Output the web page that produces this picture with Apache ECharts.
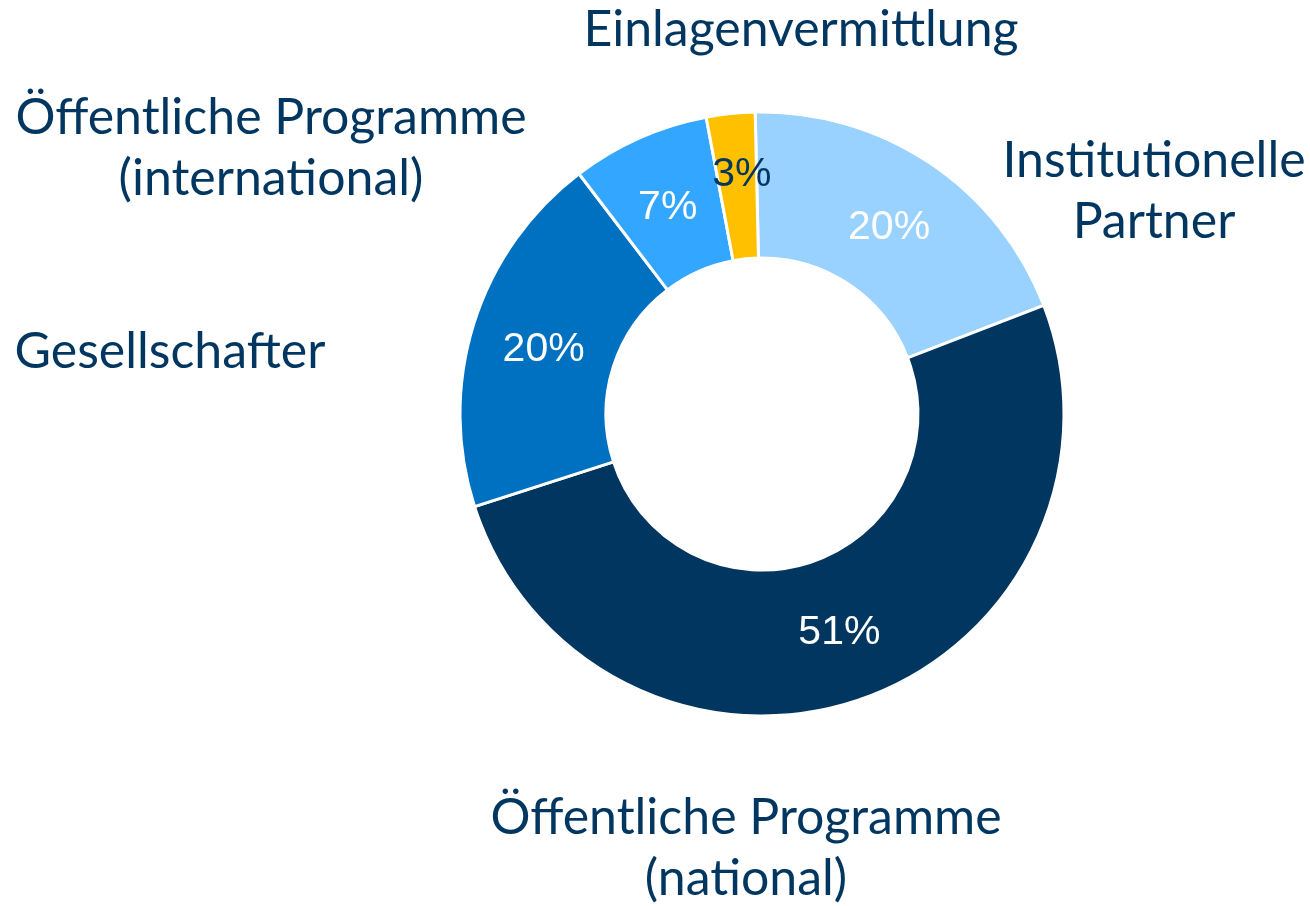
<!DOCTYPE html>
<html>
<head>
<meta charset="utf-8">
<script src="https://cdn.jsdelivr.net/npm/echarts@6/dist/echarts.min.js"></script>
<style>
  html, body { margin: 0; padding: 0; background: #fff; }
  #main { width: 1310px; height: 906px; }
</style>
</head>
<body>
<div id="main"></div>
<script>
// Anteile (in Prozent), im Uhrzeigersinn ab 12 Uhr
var categories = [
    'Institutionelle\nPartner',
    'Öffentliche Programme\n(national)',
    'Gesellschafter',
    'Öffentliche Programme\n(international)',
    'Einlagenvermittlung'
]
var shares = [19.5, 50.9, 19.6, 7.4, 2.6]
var colors = ['#99D1FF', '#00365F', '#0070C0', '#33A6FF', '#FFC000']
var pctColors = ['#ffffff', '#ffffff', '#ffffff', '#ffffff', '#00365F']
// kleine Verschiebung der Prozentangaben
var pctOffsets = [[-2, 6], [0, 0], [3, 5], [0, 6], [4, -9]]

// Position der Kategorienamen außerhalb des Rings
var namePos = [
    [1154, 191],
    [746, 848],
    [170, 352],
    [271, 148],
    [801, 30]
]

var myChart = echarts.init(document.getElementById('main'))

var data = categories.map(function (c, i) {
    return {
        name: c,
        value: shares[i],
        itemStyle: { color: colors[i] },
        label: { color: pctColors[i], offset: pctOffsets[i] }
    }
})

var option = {
    animation: false,
    series: [
        {
            type: 'pie',
            center: [762, 414],
            radius: [156, 302],
            startAngle: 91.3,
            clockwise: true,
            itemStyle: { borderColor: '#fff', borderWidth: 3 },
            label: {
                position: 'inside',
                fontFamily: 'Liberation Sans, Arial, sans-serif',
                fontSize: 41,
                formatter: function (p) { return Math.round(p.percent) + '%' }
            },
            labelLine: { show: false },
            emphasis: { disabled: true },
            data: data
        },
        {
            type: 'pie',
            silent: true,
            center: [762, 414],
            radius: [156, 302],
            startAngle: 91.3,
            itemStyle: { color: 'rgba(0,0,0,0)' },
            label: {
                position: 'outside',
                color: '#00365F',
                fontFamily: 'Lato, sans-serif',
                fontSize: 50,
                lineHeight: 61,
                align: 'center',
                overflow: 'none',
                width: 600,
                formatter: '{b}'
            },
            labelLine: { show: false },
            labelLayout: function (p) {
                var pos = namePos[p.dataIndex]
                return { x: pos[0], y: pos[1], align: 'center', verticalAlign: 'middle' }
            },
            emphasis: { disabled: true },
            data: categories.map(function (c, i) { return { name: c, value: shares[i] } })
        }
    ]
}
myChart.setOption(option)
</script>
</body>
</html>
